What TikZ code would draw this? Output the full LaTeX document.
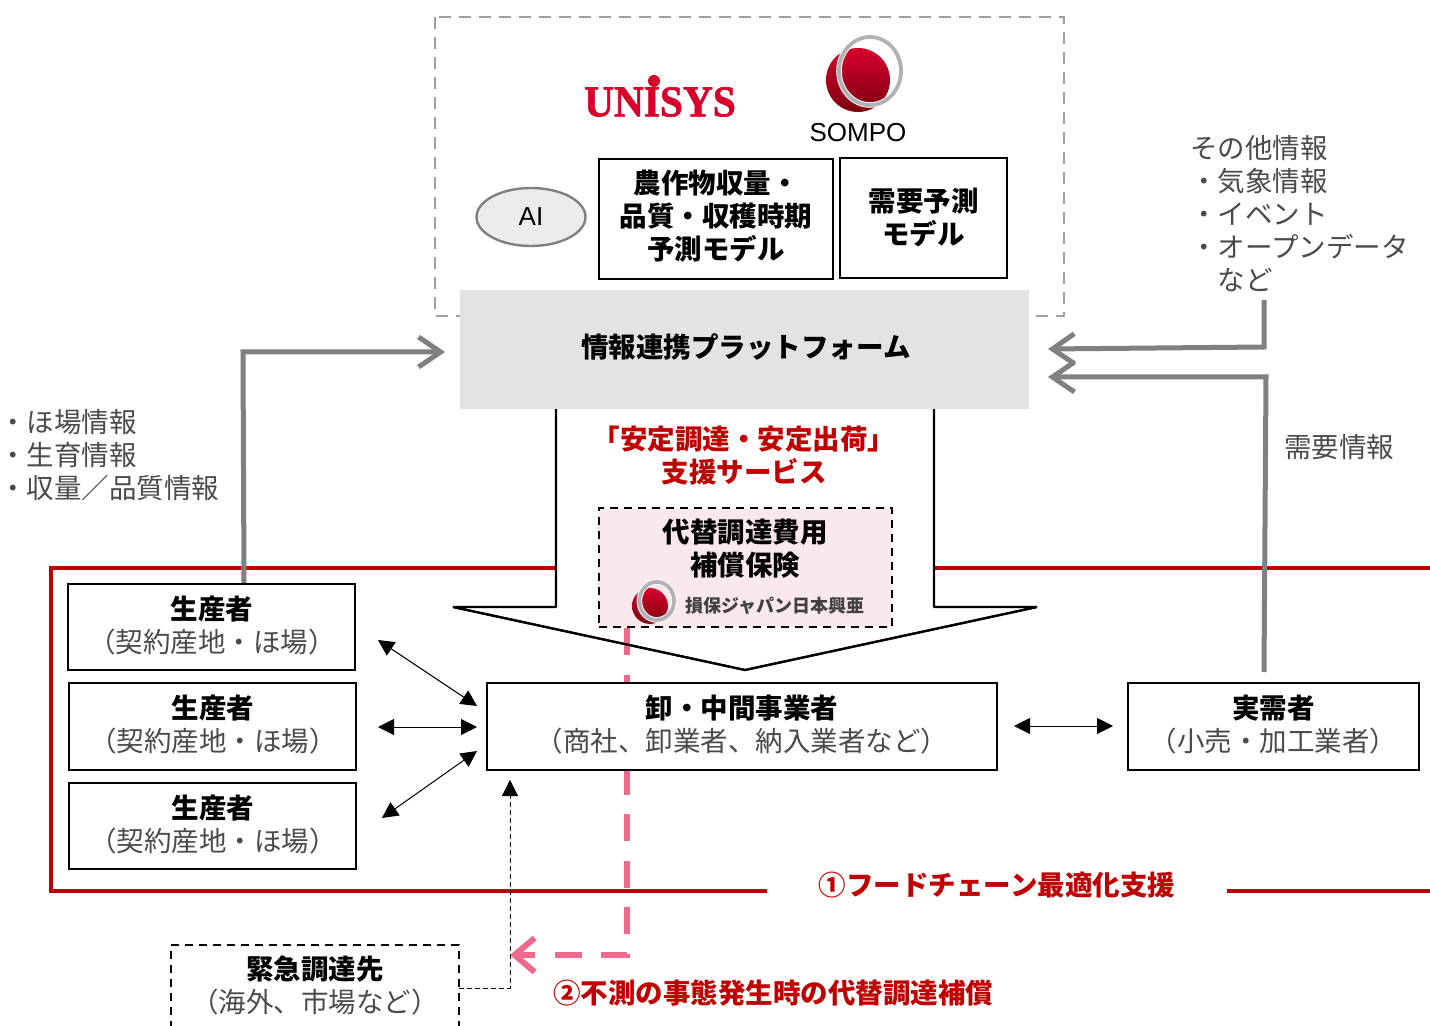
\documentclass[tikz,border=0pt]{standalone}
\usepackage{fontspec}
\setmainfont{Noto Sans CJK JP}
\newfontfamily\latinsans{Liberation Sans}
\newfontfamily\latinserif[BoldFeatures={FakeBold=1.5}]{Liberation Serif}
\usetikzlibrary{arrows.meta,shapes.geometric}
\definecolor{frred}{HTML}{C00000}
\definecolor{logored}{HTML}{D8002B}
\definecolor{logodark}{HTML}{7A0010}
\definecolor{pinkline}{HTML}{EE6A8C}
\definecolor{pinkfill}{HTML}{FBE8EC}
\definecolor{thickgray}{HTML}{808080}
\definecolor{thintext}{HTML}{4A4A4A}
\newcommand{\jp}{\fontsize{13.75}{16.5}\selectfont}
\newcommand{\thinjp}[1]{{\color{thintext}#1}}
\tikzset{
  x=0.5pt,y=-0.5pt,
  boxnode/.style={draw=black,line width=1.2pt,fill=white,inner sep=0pt,align=center,font=\jp},
  plaintext/.style={inner sep=0pt,align=center,font=\jp},
  listtext/.style={inner sep=0pt,align=left,anchor=north west,font=\jp,text=thintext},
  thickarrow/.style={draw=thickgray,line width=2.5pt,-{Straight Barb[length=11pt,width=15pt,line width=2.5pt]}},
  duplex/.style={draw=black,line width=0.5pt,{Triangle[length=8pt,width=8pt]}-{Triangle[length=8pt,width=8pt]}},
  redline/.style={draw=frred,line width=1.7pt},
  sompologo/.pic={
    \shade[top color=logored,bottom color=logodark] (0,0) ellipse [x radius=32,y radius=32];
    \draw[white,line width=2.8pt] (12,-9) ellipse [x radius=31,y radius=34];
    \draw[gray!60,line width=1.9pt] (12,-9) ellipse [x radius=31,y radius=34];
  }
}
\begin{document}
\begin{tikzpicture}
\fill[white] (0,0) rectangle (1430,1026);
\useasboundingbox (0,0) rectangle (1430,1026);
\clip (0,0) rectangle (1430,1026);

% dashed company frame
\draw[draw=gray!75,line width=1.2pt,dash pattern=on 6pt off 4pt] (435,17) rectangle (1064,316);

% logos
\node[inner sep=0pt,text=logored] (unisys) at (660,102) {\scalebox{0.94}[1]{\latinserif\bfseries\fontsize{22}{22}\selectfont UNISYS}};
\fill[logored] (654,81) circle [radius=6];
\pic at (858,80) {sompologo};
\node[inner sep=0pt] (sompo) at (858,133) {\latinsans\fontsize{13}{13}\selectfont SOMPO};

% AI and model boxes
\node[draw=gray,line width=1.2pt,fill=gray!15,ellipse,minimum width=54.5pt,minimum height=29pt,inner sep=0pt,font=\latinsans\fontsize{13}{13}\selectfont] (ai) at (531,217) {AI};
\node[boxnode,minimum width=117pt,minimum height=60pt] (crop) at (716,219) {};
\node[plaintext,font=\jp\bfseries] (croptext) at (716,216) {農作物収量・\\品質・収穫時期\\予測モデル};
\node[boxnode,minimum width=83.5pt,minimum height=60pt] (demand) at (923.5,218) {};
\node[plaintext,font=\jp\bfseries] (demandtext) at (923.5,217) {需要予測\\モデル};

% red frame
\draw[redline] (556,568) -- (51,568) -- (51,891) -- (767,891);
\draw[redline] (934,568) -- (1432,568);
\draw[redline] (1227,891) -- (1432,891);
\node[plaintext,text=frred,font=\jp\bfseries] (optim) at (997,885) {①フードチェーン最適化支援};

% big arrow
\path[draw=black,line width=1.1pt,fill=white,line join=bevel] (556,400) -- (556,607) -- (453,607) -- (745,670) -- (1037,607) -- (934,607) -- (934,400);

% platform
\node[fill=gray!22,inner sep=0pt,minimum width=284.5pt,minimum height=59.5pt] (platform) at (744.5,349.5) {};
\node[inner sep=0pt,font=\jp\bfseries] (platformtext) at (746,347) {情報連携プラットフォーム};

\node[plaintext,text=frred,font=\jp\bfseries] (service) at (744,456) {「安定調達・安定出荷」\\支援サービス};

% insurance box
\node[draw=black,line width=1.1pt,dash pattern=on 4pt off 3pt,fill=pinkfill,minimum width=146.5pt,minimum height=59.5pt,inner sep=0pt] (insure) at (745.5,567.5) {};
\node[plaintext,font=\jp\bfseries] (insuretext) at (745,549) {代替調達費用\\補償保険};
\pic[scale=0.56] at (650,606) {sompologo};
\node[inner sep=0pt,font=\fontsize{9}{9}\selectfont\bfseries,text=black!75] (sjnk) at (775,606) {損保ジャパン日本興亜};

% pink dashed route
\coordinate (pinkcorner) at (627,955);
\coordinate (pinktip) at (510,955);
\draw[draw=pinkline,line width=3.2pt,dash pattern=on 13.5pt off 9.75pt,-{Straight Barb[length=10pt,width=17pt,line width=3pt]}] (insure.south -| pinkcorner) -- (pinkcorner) -- (pinktip);
\path[draw=black,line width=1.1pt,line join=bevel] (453,607) -- (745,670) -- (1037,607);

% actor boxes
\node[boxnode,minimum width=143.5pt,minimum height=43pt] (prod1) at (211.5,627) {};
\node[plaintext] (prod1text) at (212,625.5) {{\bfseries 生産者}\\\thinjp{（契約産地・ほ場）}};
\node[boxnode,minimum width=143.5pt,minimum height=43.5pt] (prod2) at (212.5,726.5) {};
\node[plaintext] (prod2text) at (213,725) {{\bfseries 生産者}\\\thinjp{（契約産地・ほ場）}};
\node[boxnode,minimum width=143.5pt,minimum height=43pt] (prod3) at (212.5,826) {};
\node[plaintext] (prod3text) at (213,824.5) {{\bfseries 生産者}\\\thinjp{（契約産地・ほ場）}};
\node[boxnode,minimum width=255pt,minimum height=43.5pt] (whole) at (742,726.5) {};
\node[plaintext] (wholetext) at (742,725) {{\bfseries 卸・中間事業者}\\\thinjp{（商社、卸業者、納入業者など）}};
\node[boxnode,minimum width=145.5pt,minimum height=43.5pt] (retail) at (1273.5,726.5) {};
\node[plaintext] (retailtext) at (1273.5,725) {{\bfseries 実需者}\\\thinjp{（小売・加工業者）}};

% emergency
\node[draw=black,line width=1.1pt,dash pattern=on 4pt off 3pt,fill=white,minimum width=144pt,minimum height=52pt,inner sep=0pt] (emerg) at (315,997) {};
\node[plaintext] (emergtext) at (315,985) {{\bfseries 緊急調達先}\\\thinjp{（海外、市場など）}};

% small arrows
\coordinate (a1l) at (378,640); \coordinate (a1r) at (477,706);
\coordinate (a2l) at (378,727); \coordinate (a2r) at (477,727);
\coordinate (a3l) at (382,818); \coordinate (a3r) at (477,751);
\coordinate (a4l) at (1014,726); \coordinate (a4r) at (1113,726);
\draw[duplex] (a1l) -- (a1r);
\draw[duplex] (a2l) -- (a2r);
\draw[duplex] (a3l) -- (a3r);
\draw[duplex] (a4l) -- (a4r);

% thin dashed arrow
\coordinate (eout) at (459,988);
\coordinate (eup) at (510,780);
\draw[draw=black,line width=0.5pt,dash pattern=on 2.5pt off 1.5pt,-{Triangle[length=8pt,width=8pt]}] (eout) -- (510,988) -- (eup);

% thick gray arrows
\coordinate (pin) at (445,352);
\coordinate (rin1) at (1048,349);
\coordinate (rin2) at (1048,377);
\draw[thickarrow] (prod1.north -| 244,584) -- (243,352) -- (pin);
\draw[thickarrow] (1264,300) -- (1264,347) -- (rin1);
\draw[thickarrow] (1264,672) -- (1266,377) -- (rin2);

% free text
\node[listtext] (fieldinfo) at (-1,409) {・ほ場情報\\・生育情報\\・収量／品質情報};
\node[listtext] (otherinfo) at (1190,135) {その他情報\\・気象情報\\・イベント\\・オープンデータ\\\hspace*{13.75pt}など};
\node[plaintext,text=thintext] (demandinfo) at (1339,447) {需要情報};
\node[plaintext,text=frred,font=\jp\bfseries] (comp) at (773,993) {②不測の事態発生時の代替調達補償};
\end{tikzpicture}
\end{document}
